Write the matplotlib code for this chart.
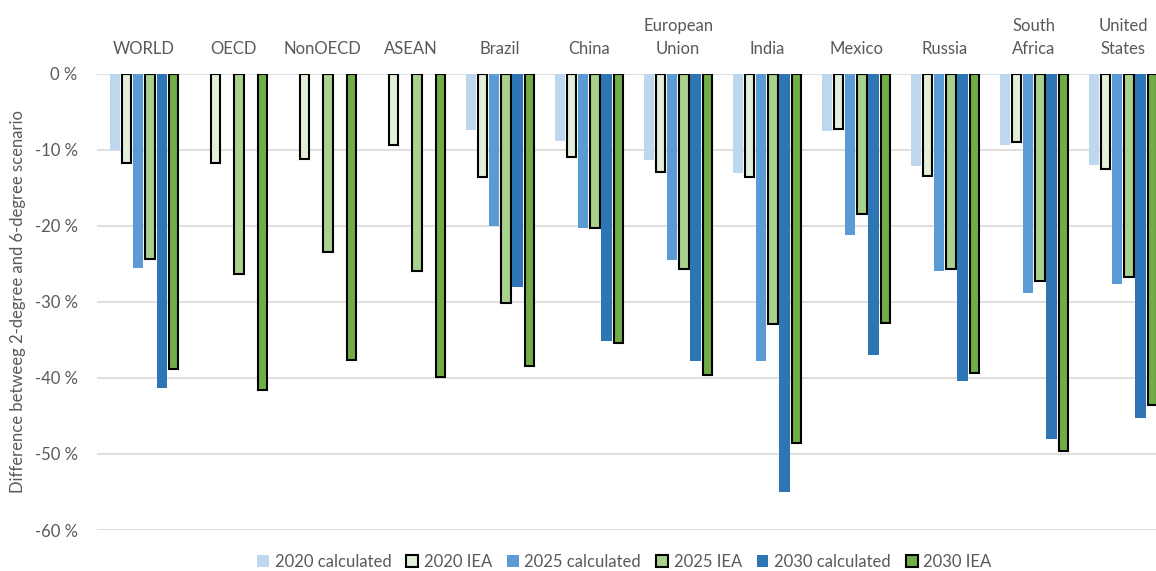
import numpy as np
import matplotlib
matplotlib.use("Agg")
from matplotlib import pyplot as plt
from matplotlib.ticker import FuncFormatter

plt.rcParams['font.family'] = ['Lato', 'DejaVu Sans']

regions = ["WORLD", "OECD", "NonOECD", "ASEAN", "Brazil", "China",
           "European\nUnion", "India", "Mexico", "Russia",
           "South\nAfrica", "United\nStates"]

nan = np.nan
calc_2020 = [-10.0, nan, nan, nan, -7.4, -8.8, -11.4, -13.0, -7.6, -12.1, -9.4, -12.0]
iea_2020 = [-11.8, -11.8, -11.2, -9.4, -13.6, -10.9, -12.9, -13.6, -7.3, -13.4, -9.0, -12.5]
calc_2025 = [-25.5, nan, nan, nan, -20.0, -20.3, -24.5, -37.8, -21.2, -26.0, -28.9, -27.7]
iea_2025 = [-24.4, -26.3, -23.5, -26.0, -30.2, -20.3, -25.7, -32.9, -18.5, -25.7, -27.2, -26.7]
calc_2030 = [-41.3, nan, nan, nan, -28.1, -35.1, -37.8, -55.0, -37.0, -40.4, -48.1, -45.3]
iea_2030 = [-38.8, -41.6, -37.6, -39.9, -38.5, -35.4, -39.6, -48.5, -32.8, -39.3, -49.6, -43.5]

series = [
    ("2020 calculated", calc_2020, "#BDD7EE", False),
    ("2020 IEA", iea_2020, "#E2EFDA", True),
    ("2025 calculated", calc_2025, "#5B9BD5", False),
    ("2025 IEA", iea_2025, "#A9D18E", True),
    ("2030 calculated", calc_2030, "#2E75B6", False),
    ("2030 IEA", iea_2030, "#70AD47", True),
]

fig = plt.figure(figsize=(11.56, 5.71), dpi=100)
ax = fig.add_axes([0.0839, 0.0718, 0.9161, 0.7992])

x = np.arange(len(regions))
step = 0.131
width = 0.105
for i, (name, vals, color, outlined) in enumerate(series):
    offs = (i - 2.5) * step
    if outlined:
        ax.bar(x + offs, vals, width, color=color, edgecolor="black",
               linewidth=1.5, label=name, zorder=3)
    else:
        ax.bar(x + offs, vals, width + 0.01, color=color, edgecolor="none",
               label=name, zorder=3)

ax.set_xlim(-0.53, 11.37)
ax.set_ylim(-60, 0)
ax.set_yticks(np.arange(-60, 1, 10))
ax.yaxis.set_major_formatter(FuncFormatter(lambda v, p: "%d %%" % v))
ax.grid(axis="y", color="#D9D9D9", linewidth=1.2, zorder=0)
ax.set_axisbelow(True)

ax.xaxis.tick_top()
ax.set_xticks(x)
ax.set_xticklabels(regions, fontsize=12, color="#595959", linespacing=1.5)
ax.tick_params(axis="both", length=0, colors="#595959", labelsize=12)
ax.tick_params(axis="x", pad=12)
ax.tick_params(axis="y", pad=14)
for s in ax.spines.values():
    s.set_visible(False)

ax.set_ylabel("Difference betweeg 2-degree and 6-degree scenario",
              fontsize=12, color="#595959", labelpad=6)

ax.legend(loc="upper center", bbox_to_anchor=(0.498, -0.02), ncol=6,
          frameon=False, fontsize=12, handlelength=0.7, handleheight=0.7,
          handletextpad=0.35, columnspacing=0.9, labelcolor="#595959")

fig.savefig("out.png", dpi=100)
